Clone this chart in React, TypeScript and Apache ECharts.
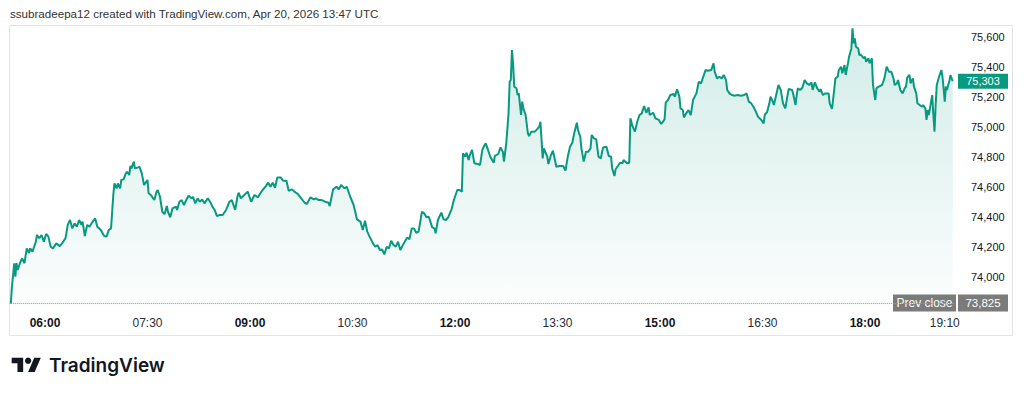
import React, { useEffect, useRef } from "react";
import * as echarts from "echarts";

// ---- data ----
const sessionStart = "05:30";
const minuteOffsets = [
  0, 1, 3, 4, 5, 6, 8, 10, 12, 14, 16, 17, 19, 22, 23, 25, 27, 29, 31, 33, 35, 37, 40, 43, 45, 48, 50, 52, 54, 56, 58, 60,
  62, 63, 65, 67, 69, 71, 74, 76, 79, 82, 84, 86, 88, 90, 91, 93, 94, 96, 97, 99, 101, 102, 104, 105, 106, 108, 109, 112,
  113, 115, 117, 118, 120, 121, 123, 125, 126, 128, 129, 131, 133, 135, 137, 138, 140, 142, 145, 146, 148, 150, 152, 154,
  156, 159, 160, 162, 164, 166, 168, 170, 173, 175, 177, 179, 181, 183, 186, 189, 192, 194, 197, 199, 200, 202, 205, 208,
  211, 214, 217, 220, 224, 226, 228, 230, 232, 234, 237, 239, 242, 244, 247, 249, 252, 255, 258, 260, 263, 266, 268, 270,
  273, 276, 279, 280, 283, 286, 288, 290, 293, 295, 298, 301, 304, 307, 309, 311, 313, 315, 318, 320, 322, 324, 326, 328,
  330, 332, 334, 336, 338, 340, 342, 345, 348, 350, 352, 354, 356, 358, 361, 363, 365, 367, 370, 372, 373, 375, 378, 380,
  382, 384, 387, 389, 392, 394, 396, 397, 399, 400, 402, 403, 405, 407, 410, 412, 414, 416,
  417, 419, 421, 424, 425, 428, 430, 432, 433, 435, 437, 438, 439, 440, 441, 442, 444, 445, 446, 448, 449, 450, 452, 454,
  455, 457, 460, 462, 464, 465, 467, 468, 471, 472, 474, 476, 479, 482, 485, 487, 489, 491, 493, 495, 497, 498, 500, 501,
  503, 505, 507, 509, 510, 512, 514, 516, 518, 520, 523, 525, 527, 528, 530, 531, 533, 535, 537, 538, 541, 543, 544, 546,
  548, 550, 552, 554, 556, 558, 560, 561, 564, 566, 569, 571, 574, 575, 577, 579, 582, 583, 585, 587, 588, 590, 591, 593,
  595, 597, 599, 602, 604, 606, 607, 610, 612, 615, 617, 618, 620, 622,
  624, 626, 628, 629, 631, 633, 636, 638, 641, 644, 646, 648, 650, 652, 654, 656, 659, 661, 662, 664, 666, 667, 669, 670,
  672, 674, 676, 678, 680, 682, 683, 686, 687, 689, 690, 691, 693, 695, 697, 699, 701, 703, 704, 706, 708, 710, 711, 713,
  715, 718, 719, 721, 723, 724, 726, 727, 729, 730, 732, 733, 735, 736, 738, 739, 740, 741, 742, 744, 745, 746, 749, 750,
  751, 753, 754, 756, 757, 759, 760, 762, 765, 767, 769, 771, 773, 775, 776, 778, 779, 781, 783, 785, 786, 787, 789, 790,
  792, 793, 795, 796, 798, 800, 801, 803, 804, 805, 806, 808, 809, 810, 811, 812, 813, 815, 817, 818, 819, 820, 821, 822,
  823, 824, 825, 827,
];
const prices = [
  73820, 73933, 74089, 74000, 74090, 74045, 74090, 74122, 74090, 74189, 74158, 74189, 74167, 74233, 74278, 74256, 74278,
  74233, 74285, 74267, 74200, 74189, 74222, 74204, 74222, 74256, 74345, 74378, 74322, 74356, 74333, 74378, 74345, 74367,
  74271, 74345, 74333, 74356, 74389, 74333, 74311, 74271, 74267, 74311, 74322, 74545, 74622, 74589, 74622, 74589, 74645,
  74649, 74689, 74700, 74678, 74738, 74722, 74767, 74722, 74729, 74733, 74689, 74611, 74622, 74645, 74556, 74545, 74522,
  74511, 74567, 74578, 74533, 74433, 74417, 74471, 74433, 74396, 74456, 74467, 74445, 74500, 74511, 74478, 74511, 74540,
  74522, 74533, 74489, 74522, 74500, 74515, 74489, 74522, 74500, 74467, 74445, 74404, 74411, 74411, 74445, 74500, 74511,
  74445, 74533, 74560, 74522, 74545, 74567,
  74500, 74545, 74529, 74567, 74604, 74627, 74600, 74627, 74593, 74662, 74662, 74640, 74640, 74573, 74582, 74567, 74551,
  74522, 74493, 74485, 74529, 74516, 74522, 74511, 74511, 74500, 74493, 74471, 74582, 74600, 74582, 74611, 74589, 74600,
  74533, 74478, 74382, 74367, 74311, 74373, 74300, 74267, 74222, 74200, 74211, 74178, 74182, 74149, 74200, 74189, 74240,
  74211, 74200, 74233, 74178, 74222, 74262, 74249, 74322, 74322, 74293, 74300, 74433, 74422, 74396, 74400, 74329, 74322,
  74289, 74378, 74427, 74382, 74378, 74396, 74449, 74511, 74578, 74578, 74567, 74822, 74800, 74827, 74778, 74811, 74845,
  74756, 74751, 74745, 74845, 74878,
  74889, 74845, 74800, 74760, 74805, 74818, 74862, 74833, 74767, 74889, 75089, 75300, 75311, 75511, 75422, 75267, 75256,
  75211, 75222, 75078, 75167, 75122, 75078, 74956, 74938, 74967, 74967, 74982, 75000, 75033, 74789, 74856, 74800, 74751,
  74805, 74840, 74733, 74738, 74738, 74707, 74800, 74867, 74893, 74967, 75027, 74978, 74933, 74856, 74767, 74833, 74833,
  74856, 74945, 74922, 74915, 74800, 74789, 74862, 74867, 74805, 74800, 74722, 74671, 74716, 74738, 74760, 74756, 74778,
  74756, 74760, 75056, 75000, 74967, 75033, 75078, 75089, 75138, 75093, 75129, 75078, 75093, 75056, 75045, 75018, 75049,
  75160, 75178, 75211, 75218, 75200, 75249, 75200, 75122, 75111, 75062, 75089, 75111, 75078, 75178, 75222, 75300, 75289,
  75311, 75378, 75373, 75378, 75422, 75367, 75322, 75333,
  75322, 75345, 75311, 75245, 75222, 75211, 75207, 75211, 75207, 75211, 75222, 75167, 75156, 75133, 75104, 75067, 75045,
  75022, 75082, 75096, 75156, 75200, 75167, 75145, 75211, 75278, 75245, 75156, 75122, 75211, 75251, 75245, 75216, 75145,
  75211, 75256, 75245, 75260, 75311, 75289, 75278, 75296, 75245, 75296, 75256, 75233, 75251, 75211, 75222, 75222, 75156,
  75118, 75251, 75322, 75333, 75378, 75400, 75356, 75411, 75345, 75422, 75467, 75522, 75656, 75556, 75589, 75533, 75522,
  75478, 75482, 75456, 75467, 75433, 75456, 75422, 75456, 75278, 75178, 75256, 75267, 75278, 75322, 75400, 75367, 75367,
  75322, 75278, 75289, 75311, 75245, 75222, 75260, 75267, 75327, 75345, 75289, 75322, 75267, 75222, 75156, 75145, 75133,
  75145, 75122, 75045, 75111, 75078, 75167, 75211, 75078, 74967, 75145, 75278, 75333, 75378, 75333, 75256, 75167, 75267,
  75245, 75278, 75300, 75344, 75303,
];
const prevClose = 73825;
const lastPrice = 75303;
const sessionEndOffset = 829;
const xTickLabels = ["06:00", "07:30", "09:00", "10:30", "12:00", "13:30", "15:00", "16:30", "18:00", "19:10"];
const boldTickLabels = ["06:00", "09:00", "12:00", "15:00", "18:00"];
const yMin = 73800;
const yMax = 75800;
const yStep = 200;
const headerText = "ssubradeepa12 created with TradingView.com, Apr 20, 2026 13:47 UTC";
const brandName = "TradingView";
const prevCloseLabel = "Prev close";

// ---- helpers ----
const toMin = (s: string) => {
  const [h, m] = s.split(":").map(Number);
  return h * 60 + m;
};
const pad = (n: number) => (n < 10 ? "0" + n : "" + n);
const fmtTime = (v: number) => pad(Math.floor(v / 60)) + ":" + pad(Math.round(v % 60));
const fmtPrice = (v: number) => String(Math.round(v)).replace(/\B(?=(\d{3})+(?!\d))/g, ",");

const LOGO_D = "M14 22H7V11H0V4h14v18zM28 22h-8l7.5-18h8L28 22z";
let registered = false;

const GREEN = "#089981";
const TEXT = "#131722";
const FONT = "'Liberation Sans', Arial, sans-serif";

export default function App() {
  const ref = useRef<HTMLDivElement>(null);

  useEffect(() => {
    if (!ref.current) return;
    if (!registered) {
      echarts.graphic.registerShape("tvlogo", echarts.graphic.extendPath(LOGO_D, {}));
      registered = true;
    }
    const chart = echarts.init(ref.current, undefined, { renderer: "svg" });
    const startMin = toMin(sessionStart);
    const data = minuteOffsets.map((m, i) => [startMin + m, prices[i]]);

    chart.setOption({
      animation: false,
      backgroundColor: "#ffffff",
      grid: { left: 10.8, right: 69, top: 6.7, bottom: 88.3 },
      xAxis: {
        type: "value",
        min: startMin,
        max: startMin + sessionEndOffset,
        axisLine: { show: false },
        axisTick: { show: false },
        splitLine: { show: false },
        axisLabel: {
          customValues: xTickLabels.map(toMin),
          margin: 10,
          formatter: (v: number) => {
            const s = fmtTime(v);
            return boldTickLabels.includes(s) ? "{b|" + s + "}" : "{r|" + s + "}";
          },
          rich: {
            b: { fontFamily: FONT, fontSize: 12, fontWeight: "bold", color: TEXT },
            r: { fontFamily: FONT, fontSize: 12, color: "#2a2e39" },
          },
        },
      },
      yAxis: {
        type: "value",
        position: "right",
        min: yMin,
        max: yMax,
        interval: yStep,
        axisLine: { show: false },
        axisTick: { show: false },
        splitLine: { show: false },
        axisLabel: {
          showMinLabel: false,
          showMaxLabel: false,
          margin: 16,
          fontFamily: FONT,
          fontSize: 11,
          color: TEXT,
          formatter: (v: number) => fmtPrice(v),
        },
      },
      series: [
        {
          type: "line",
          data,
          showSymbol: false,
          symbol: "none",
          lineStyle: { color: GREEN, width: 2 },
          itemStyle: { color: GREEN },
          areaStyle: {
            origin: "start",
            color: new echarts.graphic.LinearGradient(0, 0, 0, 1, [
              { offset: 0, color: "rgba(8,153,129,0.26)" },
              { offset: 1, color: "rgba(8,153,129,0.02)" },
            ]),
          },
          markLine: {
            silent: true,
            symbol: ["none", "none"],
            label: { show: false },
            lineStyle: { color: "#9598a1", type: "dotted", width: 1 },
            data: [{ yAxis: prevClose }],
          },
        },
      ],
    });

    const yPrev = chart.convertToPixel({ yAxisIndex: 0 }, prevClose) as number;
    const yLast = chart.convertToPixel({ yAxisIndex: 0 }, lastPrice) as number;

    chart.setOption({
      graphic: [
        {
          type: "rect",
          shape: { x: 9.5, y: 25.5, width: 1003, height: 310 },
          style: { fill: "none", stroke: "#e0e3eb", lineWidth: 1 },
          silent: true,
        },
        {
          type: "text",
          x: 10,
          y: 13,
          style: { text: headerText, fontFamily: FONT, fontSize: 11.6, fill: "#333", verticalAlign: "middle" },
        },
        {
          type: "rect",
          shape: { x: 958, y: yLast - 7.5, width: 50, height: 15 },
          style: { fill: GREEN },
        },
        {
          type: "text",
          x: 983,
          y: yLast,
          style: { text: fmtPrice(lastPrice), fontFamily: FONT, fontSize: 11, fill: "#fff", align: "center", verticalAlign: "middle" },
        },
        {
          type: "rect",
          shape: { x: 893, y: yPrev - 8.5, width: 63, height: 17 },
          style: { fill: "#7b7b7b" },
        },
        {
          type: "text",
          x: 924.5,
          y: yPrev,
          style: { text: prevCloseLabel, fontFamily: FONT, fontSize: 12, fill: "#fff", align: "center", verticalAlign: "middle" },
        },
        {
          type: "rect",
          shape: { x: 958, y: yPrev - 8.5, width: 50, height: 17 },
          style: { fill: "#7b7b7b" },
        },
        {
          type: "text",
          x: 983,
          y: yPrev,
          style: { text: fmtPrice(prevClose), fontFamily: FONT, fontSize: 11.5, fill: "#fff", align: "center", verticalAlign: "middle" },
        },
        {
          type: "tvlogo",
          x: 11.7,
          y: 354.5,
          scaleX: 0.82,
          scaleY: 0.79,
          style: { fill: TEXT },
        },
        {
          type: "circle",
          shape: { cx: 11.7 + 20 * 0.82, cy: 354.5 + 8 * 0.79, r: 3.2 },
          style: { fill: TEXT },
        },
        {
          type: "text",
          x: 49,
          y: 365,
          style: { text: brandName, fontFamily: "Inter, 'Noto Sans', sans-serif", fontSize: 19, fontWeight: 600, fill: TEXT, verticalAlign: "middle" },
        },
      ],
    });

    return () => chart.dispose();
  }, []);

  return <div ref={ref} style={{ position: "absolute", left: 0, top: 0, width: 1024, height: 395 }} />;
}
